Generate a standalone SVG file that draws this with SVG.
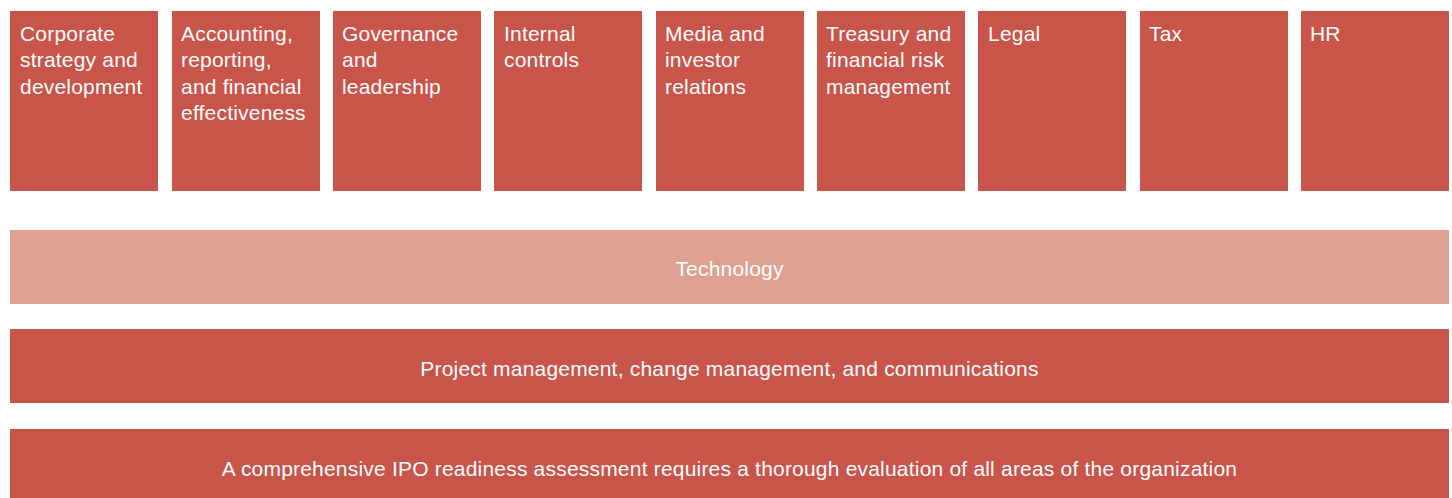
<svg xmlns="http://www.w3.org/2000/svg" width="1452" height="498" viewBox="0 0 1452 498">
<style>
.box{fill:#C8544A}
.light{fill:#DEA091}
.t{font-family:"Liberation Sans",Arial,sans-serif;font-size:21px;letter-spacing:0.2px;fill:#FFFFFF}
.c{text-anchor:middle}
</style>
<rect width="1452" height="498" fill="#FFFFFF"/>
<g id="n1"><rect class="box" x="10" y="11" width="148" height="180"/><text class="t" x="20" y="41"><tspan x="20">Corporate</tspan><tspan x="20" dy="26.4">strategy and</tspan><tspan x="20" dy="26.4">development</tspan></text></g>
<g id="n2"><rect class="box" x="172" y="11" width="148" height="180"/><text class="t" x="181" y="41"><tspan x="181">Accounting,</tspan><tspan x="181" dy="26.4">reporting,</tspan><tspan x="181" dy="26.4">and financial</tspan><tspan x="181" dy="26.4">effectiveness</tspan></text></g>
<g id="n3"><rect class="box" x="333" y="11" width="148" height="180"/><text class="t" x="342" y="41"><tspan x="342">Governance</tspan><tspan x="342" dy="26.4">and</tspan><tspan x="342" dy="26.4">leadership</tspan></text></g>
<g id="n4"><rect class="box" x="494" y="11" width="148" height="180"/><text class="t" x="504" y="41"><tspan x="504">Internal</tspan><tspan x="504" dy="26.4">controls</tspan></text></g>
<g id="n5"><rect class="box" x="656" y="11" width="148" height="180"/><text class="t" x="665" y="41"><tspan x="665">Media and</tspan><tspan x="665" dy="26.4">investor</tspan><tspan x="665" dy="26.4">relations</tspan></text></g>
<g id="n6"><rect class="box" x="817" y="11" width="148" height="180"/><text class="t" x="826" y="41"><tspan x="826">Treasury and</tspan><tspan x="826" dy="26.4">financial risk</tspan><tspan x="826" dy="26.4">management</tspan></text></g>
<g id="n7"><rect class="box" x="978" y="11" width="148" height="180"/><text class="t" x="988" y="41">Legal</text></g>
<g id="n8"><rect class="box" x="1140" y="11" width="148" height="180"/><text class="t" x="1149" y="41">Tax</text></g>
<g id="n9"><rect class="box" x="1301" y="11" width="148" height="180"/><text class="t" x="1310" y="41">HR</text></g>
<g id="technology"><rect class="light" x="10" y="230" width="1439" height="74"/><text class="t c" x="729.5" y="275.5">Technology</text></g>
<g id="project"><rect class="box" x="10" y="329" width="1439" height="74"/><text class="t c" x="729.5" y="375.5">Project management, change management, and communications</text></g>
<g id="assessment"><rect class="box" x="10" y="429" width="1439" height="69"/><text class="t c" x="729.5" y="475.5">A comprehensive IPO readiness assessment requires a thorough evaluation of all areas of the organization</text></g>
<g id="connectors"></g>
</svg>
